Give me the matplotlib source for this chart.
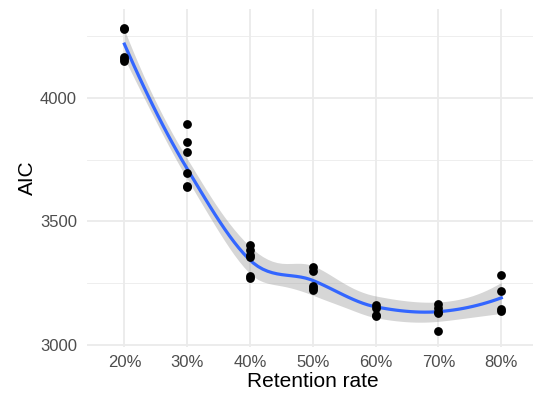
import matplotlib
matplotlib.use("Agg")
import matplotlib.pyplot as plt
import numpy as np

plt.rcParams['font.family'] = ['Liberation Sans', 'DejaVu Sans']

# Retention rate categories and the AIC values
rates = ["20%", "30%", "40%", "50%", "60%", "70%", "80%"]
aic_20 = [4285, 4280, 4165, 4158, 4150]
aic_30 = [3893, 3820, 3783, 3695, 3645, 3638]
aic_40 = [3405, 3385, 3365, 3355, 3280, 3272]
aic_50 = [3315, 3300, 3240, 3230, 3222]
aic_60 = [3160, 3150, 3122, 3118]
aic_70 = [3166, 3149, 3135, 3129, 3055]
aic_80 = [3283, 3218, 3145, 3138]
groups = [aic_20, aic_30, aic_40, aic_50, aic_60, aic_70, aic_80]

x = np.concatenate([[i + 1] * len(g) for i, g in enumerate(groups)]).astype(float)
y = np.concatenate(groups).astype(float)
order = np.argsort(x, kind="stable")
x, y = x[order], y[order]
n = len(x)
span = 0.75


def local_rows(xv):
    # local quadratic with tricube weights -> (value row, slope row)
    q = int(np.floor(n * span))
    d = np.abs(x - xv)
    h = np.sort(d)[q - 1]
    w = np.clip(1 - (d / h) ** 3, 0, None) ** 3
    X = np.column_stack([np.ones(n), x - xv, (x - xv) ** 2])
    A = np.linalg.pinv(X.T @ (w[:, None] * X)) @ (X.T * w)
    return A[0], A[1]


def kd_vertices(fc):
    # 1-d version of the loess kd tree (ties go with the high son)
    mu = 0.005 * (x.max() - x.min())
    verts = {x.min() - mu, x.max() + mu}
    cells = [(0, n - 1, x.min() - mu, x.max() + mu)]
    while cells:
        l, u, lo, hi = cells.pop()
        if u - l + 1 <= fc:
            continue
        m = (l + u) // 2
        off = 0
        while l <= m + off < u:
            if x[m + off] == x[m + off + 1]:
                off = -off
                if off >= 0:
                    off += 1
            else:
                m = m + off
                break
        v = x[m]
        if v == lo or v == hi:
            continue
        verts.add(v)
        cells.append((l, m, lo, v))
        cells.append((m + 1, u, v, hi))
    return np.array(sorted(verts))


verts = kd_vertices(int(np.floor(n * span * 0.2)))
vrows = [local_rows(v) for v in verts]


def interp_rows(xs):
    out = np.zeros((len(xs), n))
    for k, xv in enumerate(xs):
        j = min(max(np.searchsorted(verts, xv) - 1, 0), len(verts) - 2)
        x0, x1 = verts[j], verts[j + 1]
        hh = x1 - x0
        t = (xv - x0) / hh
        h00 = 2 * t ** 3 - 3 * t ** 2 + 1
        h10 = t ** 3 - 2 * t ** 2 + t
        h01 = -2 * t ** 3 + 3 * t ** 2
        h11 = t ** 3 - t ** 2
        out[k] = (h00 * vrows[j][0] + h10 * hh * vrows[j][1]
                  + h01 * vrows[j + 1][0] + h11 * hh * vrows[j + 1][1])
    return out


Lfit = interp_rows(x)
R = np.eye(n) - Lfit
M = R.T @ R
one_delta = np.trace(M)
two_delta = np.trace(M @ M)
sigma = np.sqrt(np.sum((R @ y) ** 2) / one_delta)
df = one_delta ** 2 / two_delta
z = 1.959964
tq = z + (z ** 3 + z) / (4 * df) + (5 * z ** 5 + 16 * z ** 3 + 3 * z) / (96 * df ** 2)

xg = np.linspace(1, 7, 80)
Lg = interp_rows(xg)
fit = Lg @ y
se = sigma * np.sqrt(np.sum(Lg ** 2, axis=1))

fig = plt.figure(figsize=(5.33, 3.96), dpi=100)
ax = fig.add_axes([86.7 / 533, 1 - 347 / 396, (539 - 86.7) / 533, (347 - 9) / 396])

ax.set_xlim(0.4, 7.6)
ax.set_ylim(2992, 4360)

for yy in [3250, 3750, 4250]:
    ax.axhline(yy, color="#EBEBEB", lw=0.6, zorder=0)
for yy in [3000, 3500, 4000]:
    ax.axhline(yy, color="#EBEBEB", lw=1.3, zorder=0)
for xx in range(1, 8):
    ax.axvline(xx, color="#EBEBEB", lw=1.3, zorder=0)

ax.fill_between(xg, fit - tq * se, fit + tq * se, color="#999999", alpha=0.4, lw=0, zorder=1)
ax.plot(xg, fit, color="#3366FF", lw=2.3, zorder=2)
ax.scatter(x, y, s=40, color="black", lw=0, zorder=3)

ax.set_xticks(range(1, 8))
ax.set_xticklabels(rates)
ax.set_yticks([3000, 3500, 4000])
ax.tick_params(length=0, labelsize=12, labelcolor="#4D4D4D")
ax.tick_params(axis="x", pad=5.5)
ax.tick_params(axis="y", pad=7)
for s in ax.spines.values():
    s.set_visible(False)

ax.set_xlabel("Retention rate", fontsize=15, labelpad=1.5)
ax.set_ylabel("AIC", fontsize=15, labelpad=2)

fig.savefig("out.png", dpi=100)
